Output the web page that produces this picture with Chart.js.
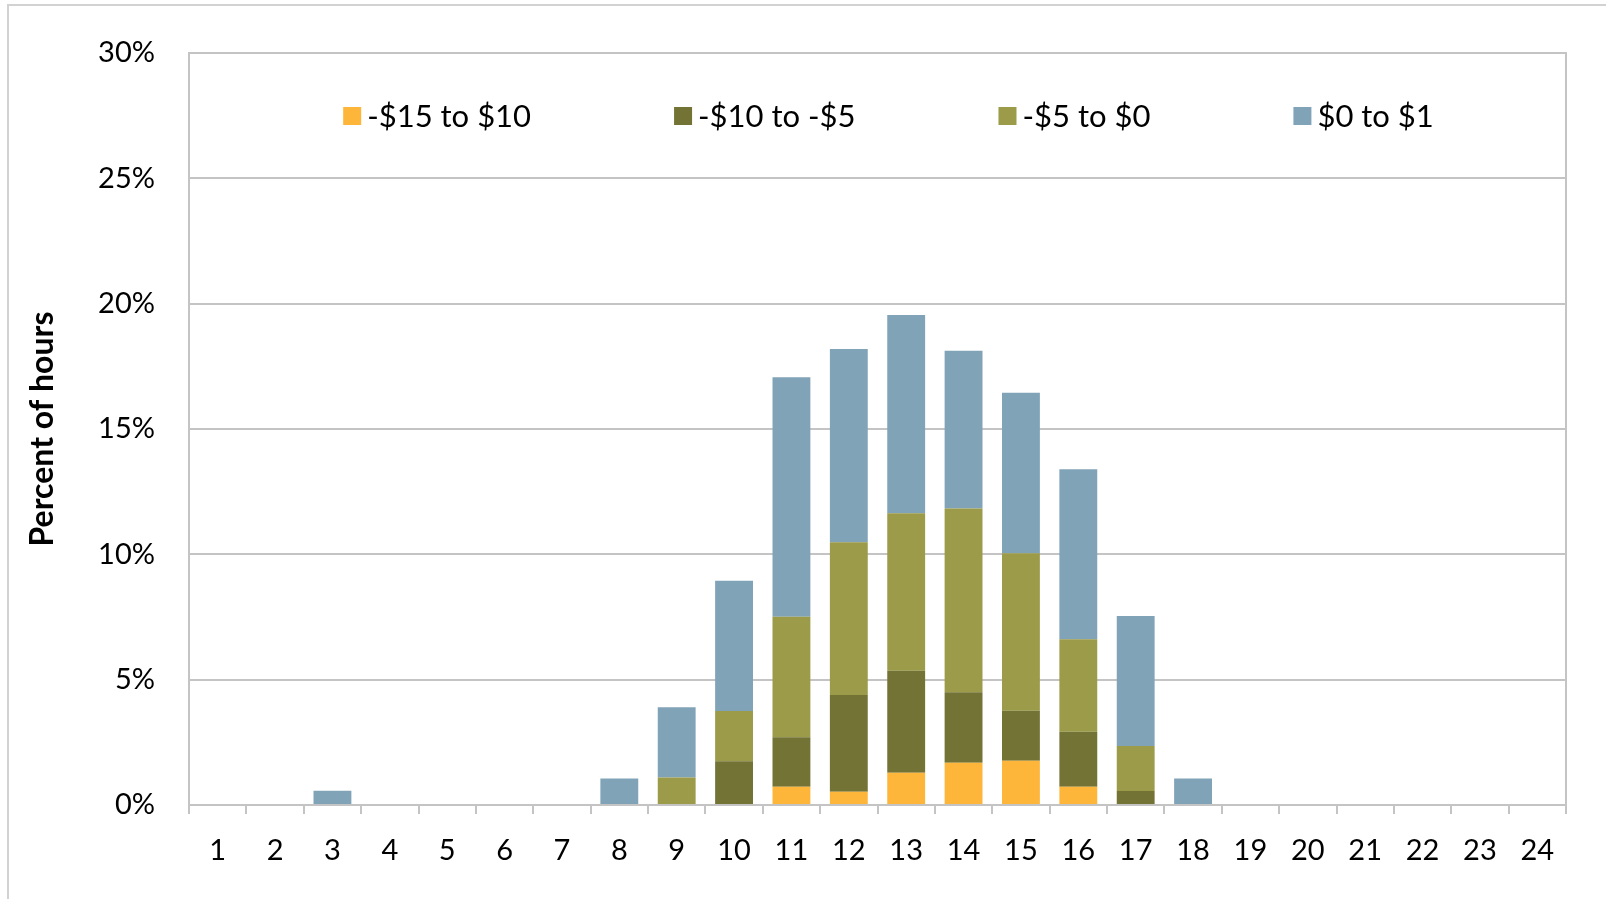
<!DOCTYPE html>
<html>
<head>
<meta charset="utf-8">
<script src="https://cdn.jsdelivr.net/npm/chart.js@4.4.1/dist/chart.umd.min.js"></script>
<style>
  html, body { margin: 0; padding: 0; background: #fff; overflow: hidden; }
  #frame { position: absolute; left: 7px; top: 4px; width: 1700px; height: 1000px; border: 2px solid #D2D2D2; }
  #wrap { position: absolute; left: 0; top: 0; width: 1606px; height: 899px; }
</style>
</head>
<body>
<div id="frame"></div>
<div id="wrap"><canvas id="hoursChart"></canvas></div>
<script>
// Hour of day categories
const hours = ['1','2','3','4','5','6','7','8','9','10','11','12','13','14','15','16','17','18','19','20','21','22','23','24'];

// Percent of hours in each price bucket (stacked)
const neg15to10 = [0,0,0,0,0,0,0,0,0,0,0.73,0.53,1.29,1.69,1.77,0.73,0,0,0,0,0,0,0,0];
const neg10to5  = [0,0,0,0,0,0,0,0,0,1.75,1.97,3.86,4.07,2.81,1.99,2.19,0.56,0,0,0,0,0,0,0];
const neg5to0   = [0,0,0,0,0,0,0,0,1.10,2.00,4.81,6.09,6.28,7.33,6.28,3.69,1.79,0,0,0,0,0,0,0];
const pos0to1   = [0,0,0.57,0,0,0,0,1.06,2.80,5.20,9.55,7.71,7.91,6.29,6.41,6.78,5.19,1.06,0,0,0,0,0,0];

const seriesNames = ['-$15 to $10', '-$10 to -$5', '-$5 to $0', '$0 to $1'];
const yTicks = [0, 5, 10, 15, 20, 25, 30];

Chart.defaults.font.family = 'Lato';
Chart.defaults.color = '#000';

const gridGray = '#C4C4C4';

// legend drawn inside the plot area, plus the plot border
const insideLegend = {
    id: 'insideLegend',
    afterDraw(chart) {
        const ctx = chart.ctx;
        const area = chart.chartArea;
        ctx.save();
        ctx.strokeStyle = gridGray;
        ctx.lineWidth = 2;
        ctx.strokeRect(area.left, area.top, area.right - area.left, area.bottom - area.top);

        ctx.font = '31px Lato';
        ctx.textBaseline = 'middle';
        const box = 18, gap = 6, spacing = 143;
        const items = chart.data.datasets.map(ds => ({
            text: ds.label, color: ds.backgroundColor, w: box + gap + ctx.measureText(ds.label).width
        }));
        const total = items.reduce((s, it) => s + it.w, 0) + spacing * (items.length - 1);
        let x = (area.left + area.right) / 2 + 11 - total / 2;
        const y = area.top + 63;
        items.forEach(it => {
            ctx.fillStyle = it.color;
            ctx.fillRect(x, y - box / 2, box, box);
            ctx.fillStyle = '#000';
            ctx.fillText(it.text, x + box + gap, y + 1);
            x += it.w + spacing;
        });
        ctx.restore();
    }
};

const ctx = document.getElementById('hoursChart').getContext('2d');
new Chart(ctx, {
    type: 'bar',
    data: {
        labels: hours,
        datasets: [
            { label: seriesNames[0], data: neg15to10, backgroundColor: '#FDB63A' },
            { label: seriesNames[1], data: neg10to5,  backgroundColor: '#737336' },
            { label: seriesNames[2], data: neg5to0,   backgroundColor: '#9B9B49' },
            { label: seriesNames[3], data: pos0to1,   backgroundColor: '#80A3B8' }
        ]
    },
    options: {
        responsive: true,
        maintainAspectRatio: false,
        animation: false,
        datasets: {
            bar: { categoryPercentage: 1.0, barPercentage: 0.66, borderWidth: 0 }
        },
        layout: {
            padding: { left: 20, top: 53, right: 40, bottom: 0 }
        },
        plugins: {
            legend: { display: false },
            tooltip: { enabled: false }
        },
        scales: {
            x: {
                stacked: true,
                grid: {
                    offset: true,
                    drawOnChartArea: false,
                    drawTicks: true,
                    tickLength: 9,
                    color: gridGray,
                    lineWidth: 2
                },
                border: { color: gridGray, width: 2 },
                ticks: { font: { size: 29 }, padding: 19, maxRotation: 0, autoSkip: false },
                afterFit(scale) { scale.height = 94; }
            },
            y: {
                stacked: true,
                min: 0,
                max: 30,
                afterBuildTicks(scale) { scale.ticks = yTicks.map(v => ({ value: v })); },
                grid: { color: gridGray, lineWidth: 2, drawTicks: false },
                border: { color: gridGray, width: 2 },
                ticks: {
                    font: { size: 29 },
                    padding: 34,
                    callback: v => v + '%'
                },
                title: {
                    display: true,
                    text: 'Percent of hours',
                    font: { size: 32, weight: 'bold' },
                    padding: { top: 3, bottom: 0 }
                },
                afterFit(scale) { scale.width = 169; }
            }
        }
    },
    plugins: [insideLegend]
});
</script>
</body>
</html>
